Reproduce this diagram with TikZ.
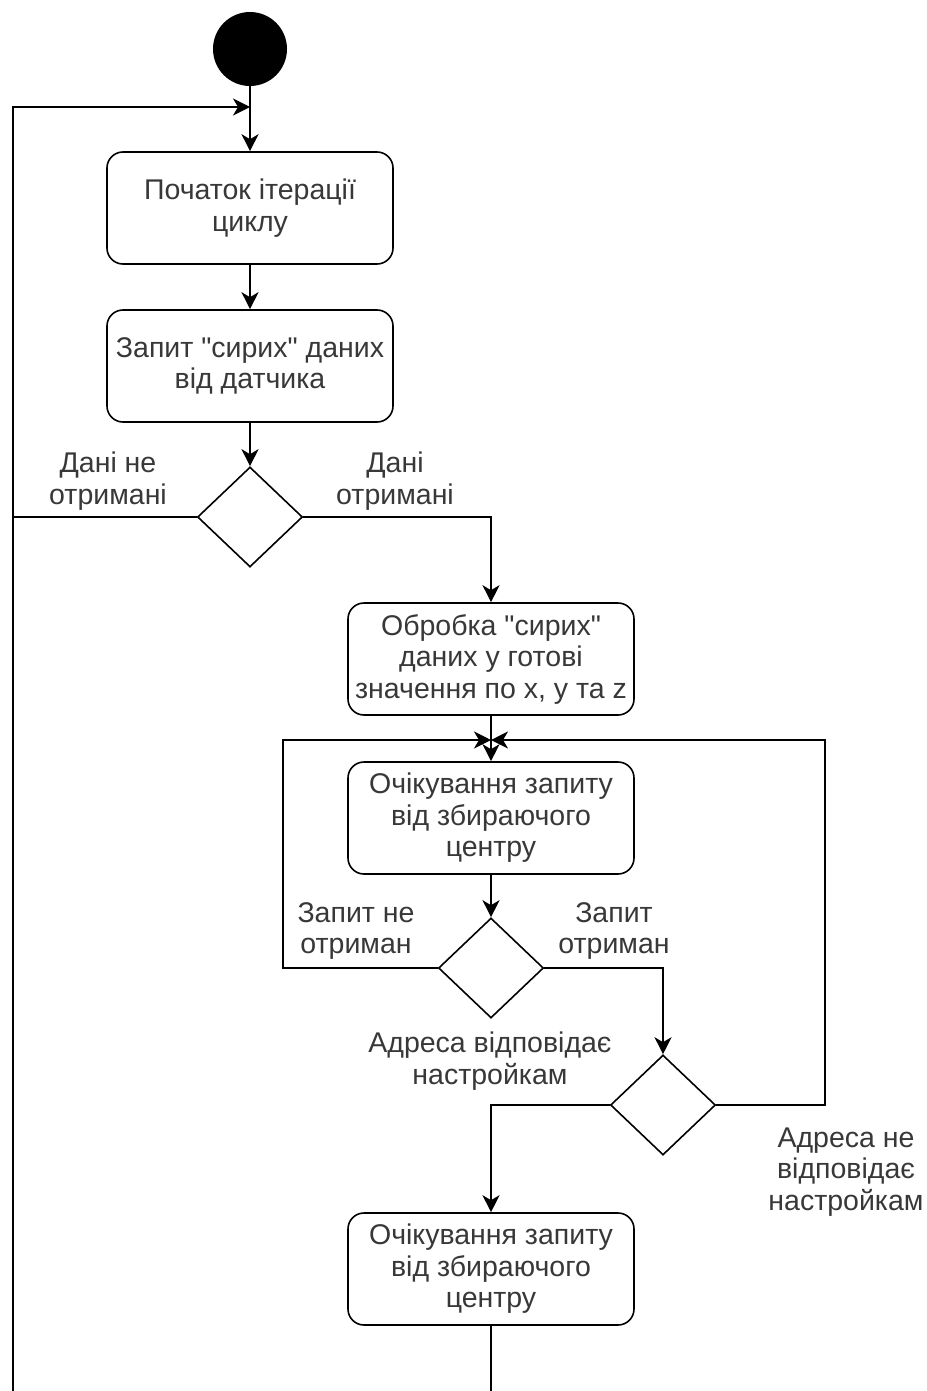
\documentclass[tikz,border=0pt]{standalone}
\usepackage{fontspec}
\setmainfont{Liberation Sans}[Ligatures=TeXOff]
\usetikzlibrary{arrows.meta,shapes.geometric}
\definecolor{txt}{HTML}{383838}
\tikzset{
  flow/.style={line width=1.6pt, draw=black},
  arr/.style={flow, -{Stealth[length=17pt, width=17pt, inset=5pt]}},
  actbox/.style={draw=black, line width=1.6pt, rounded corners=16pt, fill=white,
    minimum width=286pt, minimum height=112pt, align=center, text=txt,
    font=\fontsize{28.5}{31.5}\selectfont, inner sep=0pt},
  decision/.style={draw=black, line width=1.6pt, diamond, fill=white,
    minimum width=105pt, minimum height=100pt, inner sep=0pt},
  lbl/.style={align=center, text=txt, font=\fontsize{28.5}{31.5}\selectfont, inner sep=0pt},
  startdot/.style={circle, fill=black, minimum size=74pt, inner sep=0pt}
}
\begin{document}
\begin{tikzpicture}[x=1pt, y=-1pt]
  \useasboundingbox (0,0) rectangle (926,1391);
  \clip (0,0) rectangle (926,1391);

  % activity nodes
  \node[startdot] (start) at (250,49) {};
  \node[actbox] (iter) at (250,208) {Початок ітерації\\циклу};
  \node[actbox] (req) at (250,366) {Запит "сирих" даних\\від датчика};
  \node[decision] (d1) at (250,517) {};
  \node[actbox] (proc) at (491,659) {Обробка "сирих"\\даних у готові\\значення по x, y та z};
  \node[actbox] (wait1) at (491,818) {Очікування запиту\\від збираючого\\центру};
  \node[decision] (d2) at (491,968) {};
  \node[decision] (d3) at (663,1105) {};
  \node[actbox] (wait2) at (491,1269) {Очікування запиту\\від збираючого\\центру};

  % junction points
  \coordinate (loopin) at (250,107);
  \coordinate (mergein) at (491,740);
  \coordinate (leftrail) at (13,517);
  \coordinate (bottom) at (491,1420);

  % main flow
  \draw[arr] (start) -- (iter);
  \draw[arr] (iter) -- (req);
  \draw[arr] (req) -- (d1);
  \draw[arr] (d1.east) -| (proc.north);
  \draw[arr] (proc) -- (wait1);
  \draw[arr] (wait1) -- (d2);
  \draw[arr] (d2.east) -| (d3.north);
  \draw[arr] (d3.west) -| (wait2.north);

  % loops back
  \draw[flow] (d1.west) -- (leftrail);
  \draw[arr] (wait2.south) -- (bottom) -| (leftrail) |- (loopin);
  \draw[arr] (d2.west) -- (283,968) |- (mergein);
  \draw[arr] (d3.east) -- (825,1105) |- (mergein);

  % guard labels
  \node[lbl] (l1) at (108,481) {Дані не\\отримані};
  \node[lbl] (l2) at (395,481) {Дані\\отримані};
  \node[lbl] (l3) at (356,931) {Запит не\\отриман};
  \node[lbl] (l4) at (614,931) {Запит\\отриман};
  \node[lbl] (l5) at (490,1061) {Адреса відповідає\\настройкам};
  \node[lbl] (l6) at (846,1172) {Адреса не\\відповідає\\настройкам};
\end{tikzpicture}
\end{document}
